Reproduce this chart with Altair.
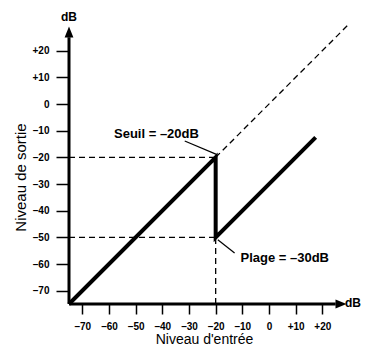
import altair as alt
import pandas as pd

# ---- data (dB values) ----
curve_in = [-75, -20, -20, 17.5]
curve_out = [-75, -20, -50, -12.5]
bypass_in = [-20, 30]
bypass_out = [-20, 30]
threshold = -20
floor_level = -50
axis_start = -75
axis_end = 25
arrow_at = 27
unit_y_at = 33
unit_x_at = 31.5
ticks = [-70, -60, -50, -40, -30, -20, -10, 0, 10, 20]
note_text = ["Seuil = –20dB", "Plage = –30dB"]
note_x = [-42.2, 5.9]
note_y = [-11.4, -57.7]
lead_x1 = [-31.6, -19.2]
lead_y1 = [-13.9, -50.9]
lead_x2 = [-19.7, -12.9]
lead_y2 = [-18.9, -55.9]

FONT = "Liberation Sans"
sc = alt.Scale(domain=[-75, 30], nice=False, zero=False)
label_expr = "datum.value > 0 ? '+' + datum.value : (datum.value < 0 ? '–' + (-datum.value) : '0')"

ax_x = alt.Axis(values=ticks, domain=False, grid=False, tickSize=10, tickWidth=1.5,
                tickColor="black", labelExpr=label_expr, labelFont=FONT, labelFontSize=10,
                labelFontWeight="bold", labelColor="black", labelPadding=7,
                title="Niveau d'entrée", titleFont=FONT, titleFontSize=14,
                titleFontWeight="normal", titleColor="black", titleX=135, titleY=39,
                titleBaseline="alphabetic", titleAlign="center")
ax_y = alt.Axis(values=ticks, domain=False, grid=False, tickSize=13, tickWidth=1.5,
                tickColor="black", labelExpr=label_expr, labelFont=FONT, labelFontSize=10,
                labelFontWeight="bold", labelColor="black", labelPadding=7,
                title="Niveau de sortie", titleFont=FONT, titleFontSize=15,
                titleFontWeight="normal", titleColor="black", titleX=-49, titleY=153,
                titleBaseline="middle", titleAlign="center", titleAngle=-90)

X = alt.X("x:Q", scale=sc, axis=ax_x)
Y = alt.Y("y:Q", scale=sc, axis=ax_y)

curve_df = pd.DataFrame({"x": curve_in, "y": curve_out, "i": range(len(curve_in))})
bypass_df = pd.DataFrame({"x": bypass_in, "y": bypass_out})
guides_df = pd.DataFrame({
    "x": [axis_start, axis_start, threshold],
    "x2": [threshold, threshold, threshold],
    "y": [threshold, floor_level, axis_start],
    "y2": [threshold, floor_level, floor_level],
})
axes_df = pd.DataFrame({
    "x": [axis_start, axis_start], "x2": [axis_end, axis_start],
    "y": [axis_start, axis_start], "y2": [axis_start, axis_end],
})
arrow_x_df = pd.DataFrame({"x": [arrow_at], "y": [axis_start]})
arrow_y_df = pd.DataFrame({"x": [axis_start], "y": [arrow_at]})
units_df = pd.DataFrame({"x": [axis_start, unit_x_at], "y": [unit_y_at - 0.5, axis_start + 0.3], "t": ["dB", "dB"]})
notes_df = pd.DataFrame({"x": note_x, "y": note_y, "t": note_text})
leads_df = pd.DataFrame({"x": lead_x1, "y": lead_y1, "x2": lead_x2, "y2": lead_y2})

guides = alt.Chart(guides_df).mark_rule(color="black", strokeWidth=1.3, strokeDash=[6, 4]).encode(
    x=X, y=Y, x2="x2:Q", y2="y2:Q")
bypass = alt.Chart(bypass_df).mark_line(color="black", strokeWidth=1.3, strokeDash=[6, 4]).encode(
    x=X, y=Y)
axes = alt.Chart(axes_df).mark_rule(color="black", strokeWidth=3).encode(
    x=X, y=Y, x2="x2:Q", y2="y2:Q")
arrow_x = alt.Chart(arrow_x_df).mark_point(shape="M-1,-0.8L1,0L-1,0.8Z", filled=True, color="black",
                                           opacity=1, size=121, strokeWidth=0).encode(x=X, y=Y)
arrow_y = alt.Chart(arrow_y_df).mark_point(shape="M-0.8,1L0,-1L0.8,1Z", filled=True, color="black",
                                           opacity=1, size=121, strokeWidth=0).encode(x=X, y=Y)
curve = alt.Chart(curve_df).mark_line(color="black", strokeWidth=4, strokeJoin="miter",
                                      strokeCap="butt").encode(x=X, y=Y, order="i:Q")
leads = alt.Chart(leads_df).mark_rule(color="black", strokeWidth=1.2).encode(
    x=X, y=Y, x2="x2:Q", y2="y2:Q")
notes = alt.Chart(notes_df).mark_text(font=FONT, fontSize=13, fontWeight="bold", color="black",
                                      align="center", baseline="middle").encode(x=X, y=Y, text="t:N")
units = alt.Chart(units_df).mark_text(font=FONT, fontSize=12, fontWeight="bold", color="black",
                                      align="center", baseline="middle").encode(x=X, y=Y, text="t:N")

chart = alt.layer(guides, bypass, axes, arrow_x, arrow_y, curve, leads, notes, units).properties(
    width=280, height=280,
    padding={"left": 61, "top": 16, "right": 12, "bottom": 41},
    autosize=alt.AutoSizeParams(type="none"),
).configure_view(stroke=None)

chart.save("out.html", embed_options={"renderer": "svg", "actions": False})
